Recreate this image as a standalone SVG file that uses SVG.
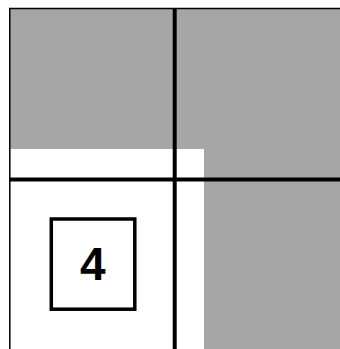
<svg xmlns="http://www.w3.org/2000/svg" width="340" height="349" viewBox="0 0 340 349">
<style>
.fill{fill:#a6a6a6}
.line{stroke:#000;fill:none}
.lbl{font-family:"Liberation Sans",Arial,sans-serif;font-weight:bold;font-size:46px;fill:#000}
</style>
<rect width="340" height="349" fill="#fff"/>
<g id="regions">
<rect class="fill" x="10" y="8.5" width="330" height="140.5"/>
<rect class="fill" x="204" y="149" width="136" height="200"/>
</g>
<g id="frame">
<path class="line" stroke-width="1.5" d="M9.8 349V8.6H340"/>
</g>
<g id="connectors">
<path class="line" stroke-width="4" d="M10 179.5H340"/>
<path class="line" stroke-width="4" d="M174.7 8V349"/>
</g>
<g id="node4">
<rect x="51.3" y="219" width="83.5" height="90.2" fill="#fff" stroke="#000" stroke-width="3.5"/>
<text class="lbl" x="92.8" y="280" text-anchor="middle">4</text>
</g>
</svg>
